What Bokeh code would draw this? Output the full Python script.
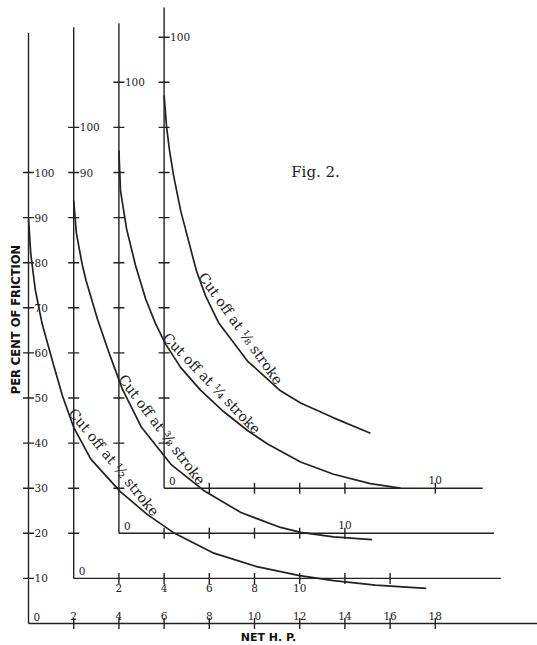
import math
import numpy as np
from bokeh.plotting import figure
from bokeh.models import ColumnDataSource, Range1d
from bokeh.core.properties import value
from bokeh.embed import file_html
from bokeh.resources import INLINE

# ---------------- data ----------------
# every curve is given in its own (offset) co-ordinate system:
# x = net horse power, y = per cent of friction
hp_half = [0, 0.1, 0.3, 0.6, 1.1, 1.5, 2.0, 2.75, 4.05, 5.25, 6.4, 8.2, 10.1, 12.0, 13.5, 15.35, 17.6]
pct_half = [89.8, 82, 74, 66.5, 57.5, 50.5, 43.5, 36.5, 29.3, 24.2, 20.2, 15.6, 12.6, 10.6, 9.5, 8.5, 7.8]

hp_3_8 = [0, 0.12, 0.38, 0.55, 1.05, 1.6, 2.15, 3.0, 4.3, 5.75, 7.4, 9.15, 10.05, 11.5, 13.2]
pct_3_8 = [83.8, 76.5, 69.5, 66, 57.5, 49.5, 42, 33.5, 25.3, 19.5, 14.6, 11.3, 10.2, 9.2, 8.6]

hp_quarter = [0, 0.07, 0.34, 0.73, 1.18, 1.62, 2.06, 2.73, 3.6, 4.63, 5.69, 6.58, 8.04, 9.5, 11.13, 12.46]
pct_quarter = [84.9, 76, 67.5, 59.5, 52, 46.5, 42, 36.8, 31.8, 27, 22.8, 19.8, 15.8, 13.1, 11.0, 10.0]

hp_eighth = [0, 0.11, 0.24, 0.42, 0.73, 1.08, 1.43, 1.83, 2.41, 3.69, 5.15, 6.04, 7.5, 9.13]
pct_eighth = [87.1, 80, 74.9, 69.3, 61.6, 54.9, 48.2, 42.7, 36.7, 28.2, 21.6, 18.9, 15.6, 12.2]

curve_names = ["Cut off at \u00bd stroke", "Cut off at \u215c stroke",
               "Cut off at \u00bc stroke", "Cut off at \u215b stroke"]

# origins of the four nested scales, in units of the outer scale
origin_hp = [0, 2, 4, 6]
origin_pct = [0, 10, 20, 30]

# per-cent ticks (same on every scale) and the labels printed beside them
pct_ticks = [10, 20, 30, 40, 50, 60, 70, 80, 90, 100]
pct_tick_labels = [
    ["10", "20", "30", "40", "50", "60", "70", "80", "90", "100"],
    ["", "", "", "", "", "", "", "", "90", "100"],
    ["", "", "", "", "", "", "", "", "", "100"],
    ["", "", "", "", "", "", "", "", "", "100"],
]
# horse-power ticks of each scale and their labels
hp_ticks = [
    [2, 4, 6, 8, 10, 12, 14, 16, 18],
    [2, 4, 6, 8, 10, 12, 14],
    [2, 4, 6, 8, 10],
    [2, 4, 6, 8, 12],
]
hp_tick_labels = [
    ["2", "4", "6", "8", "10", "12", "14", "16", "18"],
    ["2", "4", "6", "8", "10", "", ""],
    ["", "", "", "", "10"],
    ["", "", "", "", "10"],
]

# ---------------- layout ----------------
W, H = 537, 645
X_LO, X_HI = -1.239, 22.522
Y_LO, Y_HI = -4.878, 138.14
SX = W / (X_HI - X_LO)
SY = H / (Y_HI - Y_LO)

INK = "#222222"
SERIF = value("DejaVu Serif")
NUM_SIZE = "10.5px"

p = figure(width=W, height=H, x_range=Range1d(X_LO, X_HI), y_range=Range1d(Y_LO, Y_HI),
           output_backend="svg", toolbar_location=None, min_border=0,
           x_axis_location=None, y_axis_location=None)
p.grid.visible = False
p.outline_line_color = None
p.background_fill_color = "white"
p.border_fill_color = "white"

# axis lines (extents in outer units)
axis_top = [131.0, 132.2, 133.1, 136.6]
axis_right = [X_HI + 1, 20.9, 20.6, 20.1]
seg = dict(x0=[], y0=[], x1=[], y1=[])
for k in range(4):
    ox, oy = origin_hp[k], origin_pct[k]
    seg["x0"] += [ox, ox]
    seg["y0"] += [oy, oy]
    seg["x1"] += [ox, axis_right[k]]
    seg["y1"] += [axis_top[k], oy]
p.segment(x0="x0", y0="y0", x1="x1", y1="y1", source=ColumnDataSource(seg),
          line_color=INK, line_width=1.4)

# tick marks
tx, ty, ta = [], [], []
for k in range(4):
    ox, oy = origin_hp[k], origin_pct[k]
    for v in pct_ticks:
        tx.append(ox); ty.append(oy + v); ta.append(0.0)
    for v in hp_ticks[k]:
        tx.append(ox + v); ty.append(oy); ta.append(math.pi / 2)
p.scatter(x=tx, y=ty, angle=ta, marker="dash", size=11, line_color=INK, line_width=1.4)

# tick labels
lx, ly, lt = [], [], []
for k in range(4):
    ox, oy = origin_hp[k], origin_pct[k]
    for v, t in zip(pct_ticks, pct_tick_labels[k]):
        if t:
            lx.append(ox); ly.append(oy + v); lt.append(t)
p.text(x=lx, y=ly, text=lt, x_offset=6, text_align="left", text_baseline="middle",
       text_font=SERIF, text_font_size=NUM_SIZE, text_color=INK)

for k in range(4):
    ox, oy = origin_hp[k], origin_pct[k]
    xs = [ox + v for v, t in zip(hp_ticks[k], hp_tick_labels[k]) if t]
    ts = [t for t in hp_tick_labels[k] if t]
    below = (k == 1)
    p.text(x=xs, y=[oy] * len(xs), text=ts, text_align="center",
           text_baseline="top" if below else "bottom",
           y_offset=6 if below else -4,
           text_font=SERIF, text_font_size=NUM_SIZE, text_color=INK)
    # the zero at each origin
    p.text(x=[ox], y=[oy], text=["0"], x_offset=5, y_offset=-3, text_align="left",
           text_baseline="bottom", text_font=SERIF, text_font_size=NUM_SIZE, text_color=INK)

# curves
curves = [(hp_half, pct_half), (hp_3_8, pct_3_8), (hp_quarter, pct_quarter), (hp_eighth, pct_eighth)]
for k, (h, c) in enumerate(curves):
    p.line(x=[v + origin_hp[k] for v in h], y=[v + origin_pct[k] for v in c],
           line_color=INK, line_width=1.7)

# curve labels laid along each curve
label_span = [(1.77, 5.66), (1.98, 5.65), (1.93, 6.18), (1.52, 5.15)]
cx, cy, cang, cxo, cyo = [], [], [], [], []
for k, (h, c) in enumerate(curves):
    h0, h1 = label_span[k]
    c0, c1 = np.interp(h0, h, c), np.interp(h1, h, c)
    ang = math.atan2((c1 - c0) * SY, (h1 - h0) * SX)
    cx.append(h0 + origin_hp[k]); cy.append(c0 + origin_pct[k]); cang.append(ang)
    gap = 4.0
    cxo.append(-math.sin(ang) * gap); cyo.append(-math.cos(ang) * gap)
p.text(x=cx, y=cy, text=curve_names, angle=cang, x_offset=cxo, y_offset=cyo,
       text_align="left", text_baseline="alphabetic", text_font=SERIF,
       text_font_size="14px", text_color=INK)

# titles
p.text(x=[12.7], y=[100.2], text=["Fig. 2."], text_align="center", text_baseline="middle",
       text_font=SERIF, text_font_size="15px", text_color=INK)
p.text(x=[-0.575], y=[67.4], text=["PER CENT OF FRICTION"], angle=math.pi / 2,
       text_align="center", text_baseline="middle", text_font=value("DejaVu Sans"),
       text_font_style="bold", text_font_size="11.5px", text_color="#111111")
p.text(x=[10.62], y=[-3.1], text=["NET H. P."], text_align="center", text_baseline="middle",
       text_font=value("DejaVu Sans"), text_font_style="bold", text_font_size="11px",
       text_color="#111111")

open("out.html", "w").write(file_html(p, INLINE))
